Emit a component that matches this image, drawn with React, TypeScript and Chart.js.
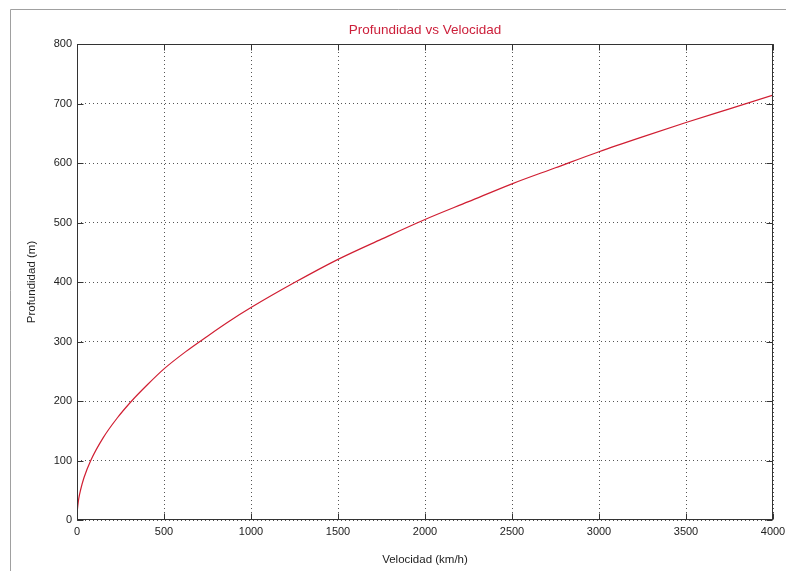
import React, { useEffect, useRef } from "react";
import { Chart, registerables } from "chart.js";

Chart.register(...registerables);

const TITLE = "Profundidad vs Velocidad";
const X_LABEL = "Velocidad (km/h)";
const Y_LABEL = "Profundidad (m)";

const velocidad = [1, 5, 10, 20, 40, 79, 150, 230, 314, 400, 500, 625, 750, 875, 1000, 1250, 1500, 1750, 2000, 2250, 2500, 2750, 3000, 3250, 3500, 3750, 4000];
const profundidad = [14, 25, 36, 50, 71, 100, 138, 171, 200, 226, 254, 283, 309, 334, 357, 399, 438, 472, 505, 535, 565, 592, 619, 644, 668, 691, 714];

const X_MIN = 0, X_MAX = 4000, X_STEP = 500;
const Y_MIN = 0, Y_MAX = 800, Y_STEP = 100;

const FONT = "'Liberation Sans', Arial, sans-serif";

const decorPlugin = {
  id: "decor",
  beforeDraw(chart: any) {
    const ctx = chart.ctx;
    ctx.save();
    ctx.fillStyle = "#ffffff";
    ctx.fillRect(0, 0, chart.width, chart.height);
    ctx.strokeStyle = "#a0a0a0";
    ctx.lineWidth = 1;
    ctx.beginPath();
    ctx.moveTo(10.5, chart.height);
    ctx.lineTo(10.5, 9.5);
    ctx.lineTo(chart.width, 9.5);
    ctx.stroke();
    ctx.restore();
  },
  afterDraw(chart: any) {
    const ctx = chart.ctx;
    const a = chart.chartArea;
    const xs = chart.scales.x;
    const ys = chart.scales.y;
    ctx.save();
    ctx.strokeStyle = "#333333";
    ctx.lineWidth = 1;
    const L = Math.round(a.left) + 0.5, R = Math.round(a.right) - 0.5;
    const T = Math.round(a.top) + 0.5, B = Math.round(a.bottom) - 0.5;
    ctx.strokeRect(L, T, R - L, B - T);
    const tl = 6;
    ctx.beginPath();
    xs.ticks.forEach((t: any) => {
      const px = Math.round(xs.getPixelForValue(t.value)) + 0.5;
      ctx.moveTo(px, B); ctx.lineTo(px, B - tl);
      ctx.moveTo(px, T); ctx.lineTo(px, T + tl);
    });
    ys.ticks.forEach((t: any) => {
      const py = Math.round(ys.getPixelForValue(t.value)) + 0.5;
      ctx.moveTo(L, py); ctx.lineTo(L + tl, py);
      ctx.moveTo(R, py); ctx.lineTo(R - tl, py);
    });
    ctx.stroke();

    ctx.fillStyle = "#cc1f3a";
    ctx.font = `13.5px ${FONT}`;
    ctx.textAlign = "center";
    ctx.textBaseline = "middle";
    ctx.fillText(TITLE, (a.left + a.right) / 2, 30);

    ctx.fillStyle = "#222222";
    ctx.font = `11.5px ${FONT}`;
    ctx.fillText(X_LABEL, (a.left + a.right) / 2, 560);
    ctx.translate(32, (a.top + a.bottom) / 2);
    ctx.rotate(-Math.PI / 2);
    ctx.fillText(Y_LABEL, 0, 0);
    ctx.restore();
  },
};

export default function App() {
  const ref = useRef<HTMLCanvasElement | null>(null);
  useEffect(() => {
    if (!ref.current) return;
    const points = velocidad.map((v, i) => ({ x: v, y: profundidad[i] }));
    const chart = new Chart(ref.current, {
      type: "line",
      data: {
        datasets: [
          {
            data: points,
            borderColor: "#d01e32",
            borderWidth: 1.2,
            pointRadius: 0,
            cubicInterpolationMode: "monotone",
            fill: false,
          },
        ],
      },
      options: {
        animation: false,
        responsive: false,
        devicePixelRatio: 1,
        layout: { padding: { left: 0, top: 44, right: 13, bottom: 0 } },
        plugins: { legend: { display: false }, title: { display: false }, tooltip: { enabled: false } },
        scales: {
          x: {
            type: "linear",
            min: X_MIN,
            max: X_MAX,
            afterFit: (s: any) => { s.height = 51; s.paddingRight = 0; s.paddingLeft = 0; },
            ticks: { stepSize: X_STEP, color: "#222222", font: { family: FONT, size: 11 }, padding: 5, maxRotation: 0, autoSkip: false, callback: (v: any) => String(v) },
            grid: { color: "#555555", lineWidth: 1, drawTicks: false },
            border: { display: false, dash: [1, 3] },
          },
          y: {
            type: "linear",
            min: Y_MIN,
            max: Y_MAX,
            afterFit: (s: any) => { s.width = 77; s.paddingTop = 0; s.paddingBottom = 0; },
            ticks: { stepSize: Y_STEP, color: "#222222", font: { family: FONT, size: 11 }, padding: 5, autoSkip: false, callback: (v: any) => String(v) },
            grid: { color: "#555555", lineWidth: 1, drawTicks: false },
            border: { display: false, dash: [1, 3] },
          },
        },
      },
      plugins: [decorPlugin],
    });
    return () => chart.destroy();
  }, []);
  return (
    <div style={{ position: "fixed", left: 0, top: 0, width: 786, height: 571, background: "#fff" }}>
      <canvas ref={ref} width={786} height={571} style={{ display: "block" }} />
    </div>
  );
}
